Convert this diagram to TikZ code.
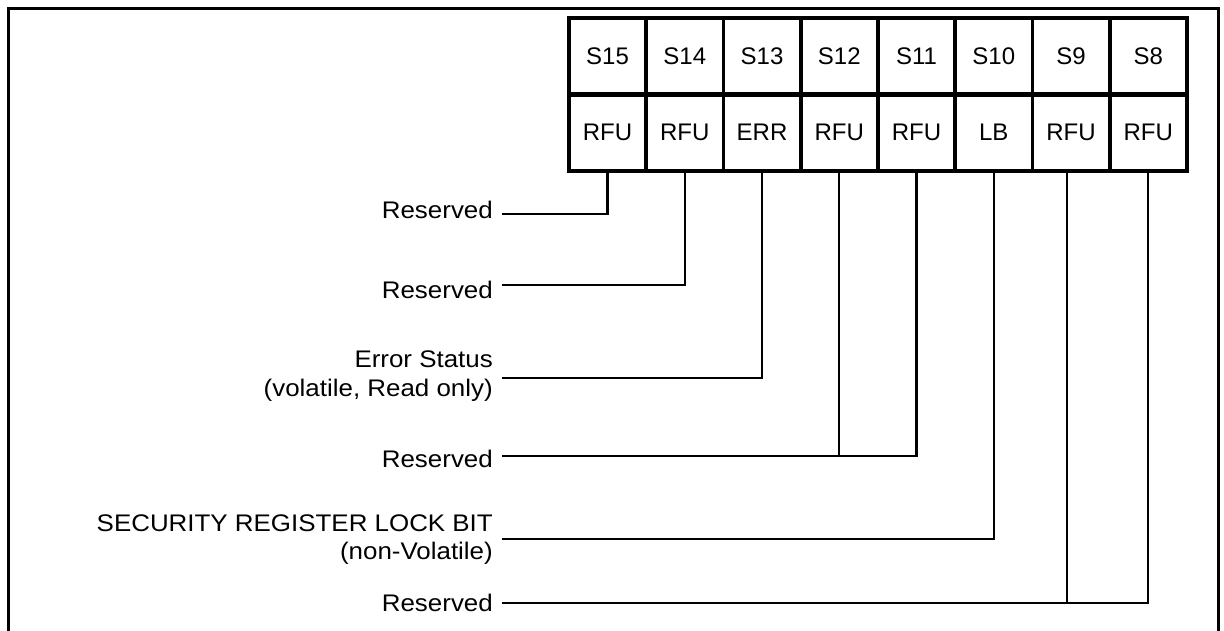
\documentclass[tikz,border=0pt]{standalone}
\usepackage{fontspec}
\setmainfont{Liberation Sans}
\newfontfamily\labelfont[FakeStretch=1.08]{Liberation Sans}
\begin{document}
\begin{tikzpicture}[x=1pt,y=-1pt,
  cell/.style={draw,line width=3.8pt,minimum width=77.25pt,minimum height=77pt,
    inner sep=0pt,anchor=north west,font=\fontsize{24}{29}\selectfont},
  lbl/.style={anchor=base east,align=right,inner sep=0pt,
    font=\labelfont\fontsize{24}{28.5}\selectfont},
  wire/.style={line width=2.4pt,line cap=rect}]
\useasboundingbox (0,0) rectangle (1224,630);

% outer frame, open at the bottom
\draw[line width=3pt] (8,650) -- (8,8) -- (1218,8) -- (1218,650);

% register bits, S15 down to S8
\foreach \n/\b/\i in {15/RFU/0,14/RFU/1,13/ERR/2,12/RFU/3,11/RFU/4,10/LB/5,9/RFU/6,8/RFU/7}{
  \node[cell] (t\n) at (567+\i*77.25,16) {S\n};
  \node[cell] (b\n) at (567+\i*77.25,92) {\b};
}

% descriptions (multi-line ones are placed by their last baseline)
\node[lbl] (l15) at (493,218) {Reserved};
\node[lbl] (l14) at (493,298) {Reserved};
\node[lbl] (l13) at (493,396) {Error Status\\(volatile, Read only)};
\node[lbl] (l12) at (493,467) {Reserved};
\node[lbl] (l10) at (493,559.5) {SECURITY REGISTER LOCK BIT\\(non-Volatile)};
\node[lbl] (l9)  at (493,611.5) {Reserved};

% line ends beside the descriptions
\coordinate (e15) at (503,214);
\coordinate (e14) at (503,285);
\coordinate (e13) at (503,378);
\coordinate (e12) at (503,456);
\coordinate (e10) at (503,539);
\coordinate (e9)  at (503,603);

% connectors
\draw[wire] (b15.south) |- (e15);
\draw[wire] (b14.south) |- (e14);
\draw[wire] (b13.south) |- (e13);
\draw[wire] (b11.south) |- (e12);
\draw[wire] (b12.south) -- (b12.south |- e12);
\draw[wire] (b10.south) |- (e10);
\draw[wire] (b8.south) |- (e9);
\draw[wire] ([xshift=-4pt]b9.south) -- ([xshift=-4pt]b9.south |- e9);
\end{tikzpicture}
\end{document}
